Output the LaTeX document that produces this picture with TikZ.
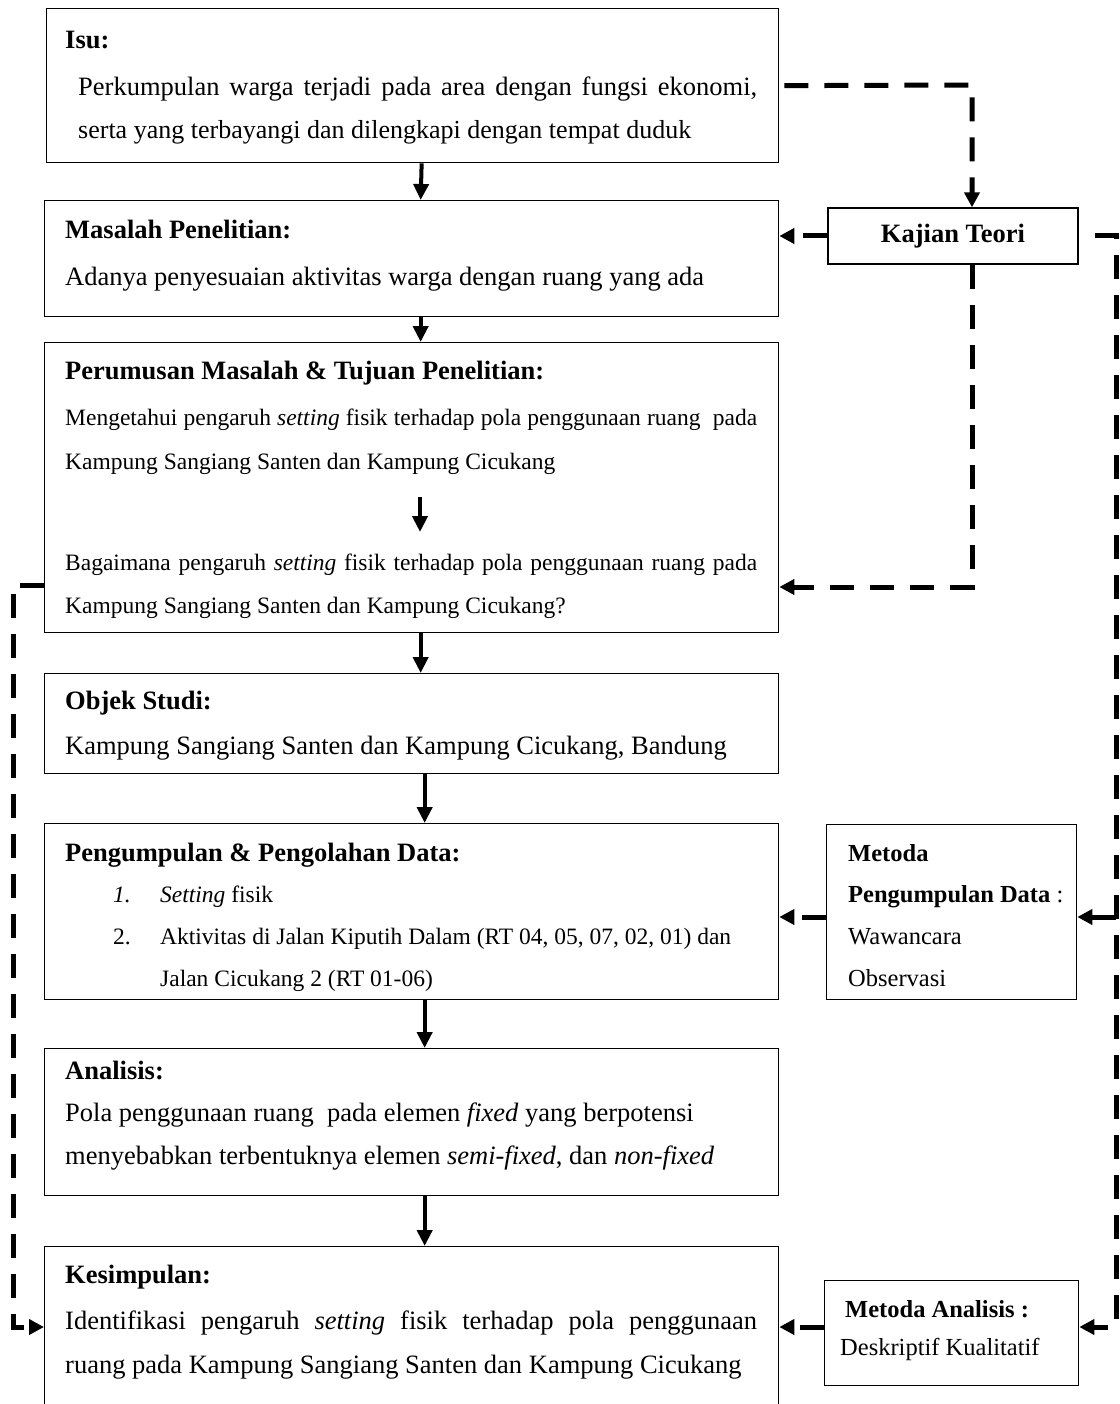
\documentclass[tikz,border=0pt]{standalone}
\usepackage{fontspec}
\setmainfont{Liberation Serif}
\usetikzlibrary{arrows.meta,calc}
\begin{document}
\begin{tikzpicture}[x=1pt,y=-1pt,
 box/.style={draw,line width=1.3pt,inner sep=0pt,anchor=north west},
 txt/.style={anchor=base west,inner sep=0pt,font=\fontsize{26.5}{30}\selectfont},
 ttl/.style={anchor=base west,inner sep=0pt,font=\fontsize{26.5}{30}\selectfont\bfseries},
 sm/.style={anchor=base west,inner sep=0pt,font=\fontsize{23.5}{28}\selectfont},
 smt/.style={anchor=base west,inner sep=0pt,font=\fontsize{24.5}{28}\selectfont\bfseries},
 sma/.style={anchor=base west,inner sep=0pt,font=\fontsize{24.5}{28}\selectfont},
 arr/.style={line width=4pt,-{Triangle[length=16pt,width=15pt]}},
 dsh/.style={line width=5pt,dash pattern=on 24pt off 16pt},
 darr/.style={dsh,-{Triangle[length=15pt,width=15pt]}}]
\useasboundingbox (0,0) rectangle (1119,1404);
\clip (0,0) rectangle (1119,1404);
% boxes
\node[box,minimum width=732pt,minimum height=154pt] (isu) at (46,8) {};
\node[box,minimum width=734pt,minimum height=116pt] (masalah) at (44,200) {};
\node[box,minimum width=734pt,minimum height=290pt] (perum) at (44,342) {};
\node[box,minimum width=734pt,minimum height=100pt] (objek) at (44,673) {};
\node[box,minimum width=734pt,minimum height=176pt] (peng) at (44,823) {};
\node[box,minimum width=734pt,minimum height=147pt] (anal) at (44,1048) {};
\node[box,minimum width=734pt,minimum height=180pt] (kes) at (44,1246) {};
\node[box,minimum width=250pt,minimum height=56pt,anchor=center,font=\fontsize{26.5}{30}\selectfont\bfseries] (kajian) at (953,236) {Kajian Teori};
\node[box,minimum width=250pt,minimum height=175pt] (metP) at (826,824) {};
\node[box,minimum width=254pt,minimum height=105pt] (metA) at (824,1280) {};
% texts
\node[ttl] (isuT) at (65,49) {Isu:};
\node[txt] (isu1) at (78,96) {\makebox[679pt][s]{Perkumpulan warga terjadi pada area dengan fungsi ekonomi,}};
\node[txt,font=\fontsize{26}{30}\selectfont] (isu2) at (78,139) {serta yang terbayangi dan dilengkapi dengan tempat duduk};
\node[ttl] (masT) at (65,239) {Masalah Penelitian:};
\node[txt] (mas1) at (65,286) {Adanya penyesuaian aktivitas warga dengan ruang yang ada};
\node[ttl] (perT) at (65,379) {Perumusan Masalah \& Tujuan Penelitian:};
\node[sm] (per1) at (65,425) {\makebox[692pt][s]{Mengetahui pengaruh \textit{setting} fisik terhadap pola penggunaan ruang\ \ pada}};
\node[sm] (per2) at (65,469) {Kampung Sangiang Santen dan Kampung Cicukang};
\node[sm] (per3) at (65,570) {\makebox[692pt][s]{Bagaimana pengaruh \textit{setting} fisik terhadap pola penggunaan ruang pada}};
\node[sm] (per4) at (65,613) {Kampung Sangiang Santen dan Kampung Cicukang?};
\node[ttl] (objT) at (65,709) {Objek Studi:};
\node[txt] (obj1) at (65,754) {Kampung Sangiang Santen dan Kampung Cicukang, Bandung};
\node[ttl] (pengT) at (65,861) {Pengumpulan \& Pengolahan Data:};
\node[sm] (pn1) at (113,902) {\textit{1.}};
\node[sm] (pg1) at (160,902) {\textit{Setting} fisik};
\node[sm] (pn2) at (113,944) {2.};
\node[sm] (pg2) at (160,944) {Aktivitas di Jalan Kiputih Dalam (RT 04, 05, 07, 02, 01) dan};
\node[sm] (pg3) at (160,986) {Jalan Cicukang 2 (RT 01-06)};
\node[smt] (mp1) at (848,861) {Metoda};
\node[smt] (mp2) at (848,902) {Pengumpulan Data\textmd{ :}};
\node[sma] (mp3) at (848,944) {Wawancara};
\node[sma] (mp4) at (848,986) {Observasi};
\node[ttl] (anT) at (65,1079) {Analisis:};
\node[txt] (an1) at (65,1121) {Pola penggunaan ruang\ \ pada elemen \textit{fixed} yang berpotensi};
\node[txt] (an2) at (65,1164) {menyebabkan terbentuknya elemen \textit{semi-fixed}, dan \textit{non-fixed}};
\node[ttl] (kesT) at (65,1283) {Kesimpulan:};
\node[txt] (kes1) at (65,1329) {\makebox[692pt][s]{Identifikasi pengaruh \textit{setting} fisik terhadap pola penggunaan}};
\node[txt] (kes2) at (65,1373) {ruang pada Kampung Sangiang Santen dan Kampung Cicukang};
\node[smt] (maT) at (845,1317) {Metoda Analisis :};
\node[sma] (ma1) at (840,1355) {Deskriptif Kualitatif};
% solid arrows
\draw[arr] ([xshift=9pt]isu.south) -- ([xshift=9pt]masalah.north);
\draw[arr] ([xshift=9pt]masalah.south) -- ([xshift=9pt]perum.north);
\coordinate (pa) at (420,497);
\coordinate (pb) at (420,532);
\draw[arr] (pa) -- (pb);
\draw[arr] ([xshift=9pt]perum.south) -- ([xshift=9pt]objek.north);
\draw[arr] ([xshift=13pt]objek.south) -- ([xshift=13pt]peng.north);
\draw[arr] ([xshift=13pt]peng.south) -- ([xshift=13pt]anal.north);
\draw[arr] ([xshift=13pt]anal.south) -- ([xshift=13pt]kes.north);
% dashed connectors
\coordinate (c1) at (972,85);
\draw[darr] ([xshift=5pt]isu.east) -- (c1) -- (c1 |- kajian.north);
\draw[darr] (kajian.west) -- (kajian.west -| masalah.east);
\coordinate (c2) at (972,587);
\draw[darr] (kajian.south -| c2) -- (c2) -- (c2 -| perum.east);
\coordinate (r2) at (1116,1327);
\coordinate (r3) at (1116,917);
\draw[darr,dash phase=24pt] (kajian.east) -- (kajian.east -| r2) -- (r2) -- (r2 -| metA.east);
\draw[darr] (r3) -- (r3 -| metP.east);
\draw[darr] (metP.west |- r3) -- (peng.east |- r3);
\draw[darr] (metA.west |- r2) -- (kes.east |- r2);
\coordinate (l1) at (13,585);
\coordinate (l2) at (13,1327);
\draw[darr] (perum.west |- l1) -- (l1) -- (l2) -- (l2 -| kes.west);
\end{tikzpicture}
\end{document}
